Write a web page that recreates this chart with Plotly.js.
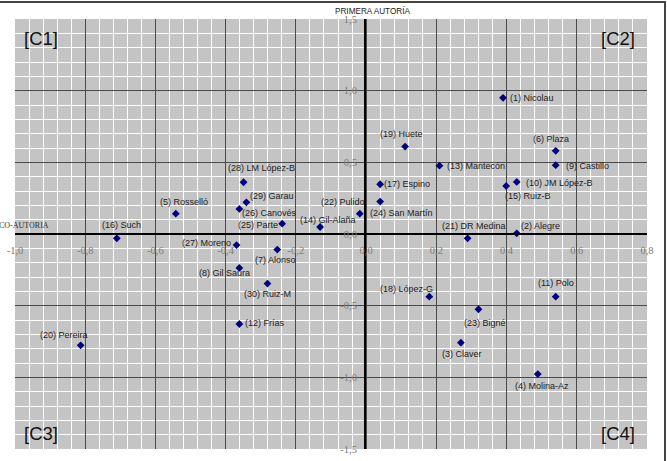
<!DOCTYPE html>
<html>
<head>
<meta charset="utf-8">
<script src="https://cdn.plot.ly/plotly-3.0.1.min.js"></script>
<style>html,body{margin:0;padding:0;background:#fff;}#chart{width:667px;height:461px;}</style>
</head>
<body>
<div id="chart"></div>
<script>
// ---- data ----
const names = ["(1) Nicolau","(2) Alegre","(3) Claver","(4) Molina-Az","(5) Rosselló","(6) Plaza","(7) Alonso","(8) Gil Saura","(9) Castillo","(10) JM López-B","(11) Polo","(12) Frías","(13) Mantecón","(14) Gil-Alaña","(15) Ruiz-B","(16) Such","(17) Espino","(18) López-G","(19) Huete","(20) Pereira","(21) DR Medina","(22) Pulido","(23) Bigné","(24) San Martín","(25) Parte","(26) Canovés","(27) Moreno","(28) LM López-B","(29) Garau","(30) Ruiz-M"];
const coAutoria = [0.39,0.429,0.27,0.489,-0.542,0.54,-0.253,-0.361,0.54,0.429,0.54,-0.361,0.209,-0.131,0.399,-0.71,0.04,0.18,0.111,-0.813,0.289,-0.018,0.32,0.04,-0.239,-0.361,-0.369,-0.349,-0.341,-0.281];
const primeraAutoria = [0.95,0.005,-0.758,-0.977,0.142,0.58,-0.109,-0.237,0.48,0.363,-0.437,-0.628,0.477,0.049,0.335,-0.03,0.347,-0.437,0.61,-0.777,-0.03,0.142,-0.525,0.226,0.072,0.175,-0.077,0.361,0.221,-0.346];
const xTickVals = [-1.0,-0.8,-0.6,-0.4,-0.2,0.0,0.2,0.4,0.6,0.8];
const xTickText = ["-1,0","-0,8","-0,6","-0,4","-0,2","0,0","0,2","0,4","0,6","0,8"];
const yTickVals = [-1.5,-1.0,-0.5,0.0,0.5,1.0,1.5];
const yTickText = ["-1,5","-1,0","-0,5","0,0","0,5","1,0","1,5"];
const quadrantLabels = ["[C1]","[C2]","[C3]","[C4]"];

// ---- label placement (pixel offsets of label centre from its marker) ----
const labelDx = [28.9,23.8,0.6,4.3,8,-4.4,-1.5,-15,31.3,43.1,0.3,25.2,37,8.3,21.8,5,27,-22.8,-3.2,-16.5,6.4,-16.4,6.6,21,-24.3,30.2,-30,17.7,25.2,0];
const labelDy = [0,-7.7,11.4,12,-11.3,-12,10,5,0.7,1.3,-14,-1.4,0.4,-7.4,10.3,-13.3,0,-8,-12.7,-10.7,-12.7,-12,13.7,11,1.7,3.6,-2.4,-14,-6,10];

const labelFont = {family: "Arial, Liberation Sans, sans-serif", size: 9, color: "#222"};
const tickFont = {family: "Liberation Serif, Times New Roman, serif", size: 10.5, color: "#7c7c7c"};

const annotations = names.map((n, i) => ({
  x: coAutoria[i], y: primeraAutoria[i], xref: "x", yref: "y",
  text: n, showarrow: false, xanchor: "center", yanchor: "middle",
  xshift: labelDx[i], yshift: -labelDy[i], font: labelFont
}));

const quadPos = [
  {x: 0.0106, y: 0.9535, xanchor: "left"},
  {x: 0.9842, y: 0.9535, xanchor: "right"},
  {x: 0.0106, y: 0.0372, xanchor: "left"},
  {x: 0.9842, y: 0.0372, xanchor: "right"}
];
quadrantLabels.forEach((t, i) => annotations.push({
  xref: "paper", yref: "paper", x: quadPos[i].x, y: quadPos[i].y,
  xanchor: quadPos[i].xanchor, yanchor: "middle", showarrow: false, text: t,
  font: {family: "Arial, Liberation Sans, sans-serif", size: 18.5, color: "#111"}
}));
annotations.push({
  xref: "paper", yref: "paper", x: 0.5027, y: 1.0186, xanchor: "left", yanchor: "middle",
  showarrow: false, text: "PRIMERA AUTORÍA",
  font: {family: "Arial, Liberation Sans, sans-serif", size: 8.2, color: "#222"}
});
annotations.push({
  xref: "paper", yref: "paper", x: 0.0565, y: 0.5202, xanchor: "right", yanchor: "middle",
  showarrow: false, text: "CO-AUTORIA",
  font: {family: "Liberation Serif, Times New Roman, serif", size: 8, color: "#333"}
});

const trace = {
  type: "scatter", mode: "markers", x: coAutoria, y: primeraAutoria, text: names,
  marker: {symbol: "diamond", size: 6, color: "#000080"}, hoverinfo: "text"
};

const layout = {
  width: 667, height: 461,
  margin: {l: 15, r: 20, t: 19, b: 12, pad: 0},
  paper_bgcolor: "#ffffff", plot_bgcolor: "#c4c4c4",
  showlegend: false,
  xaxis: {
    range: [-1.0, 0.8], domain: [0, 1], anchor: "free", position: 0.5,
    tickmode: "array", tickvals: xTickVals, ticktext: xTickText,
    showgrid: true, gridcolor: "#4a4a4a", gridwidth: 1,
    minor: {dtick: 0.04, tick0: -1.0, showgrid: true, gridcolor: "#ffffff", gridwidth: 1, ticks: ""},
    zeroline: false, showline: true, linecolor: "#000", linewidth: 2,
    ticks: "outside", ticklen: 6, tickcolor: "rgba(0,0,0,0)",
    tickfont: tickFont, fixedrange: true
  },
  yaxis: {
    range: [-1.5, 1.5], domain: [0, 1], anchor: "free", position: 0.5538,
    tickmode: "array", tickvals: yTickVals, ticktext: yTickText,
    showgrid: true, gridcolor: "#4a4a4a", gridwidth: 1,
    minor: {dtick: 0.1, tick0: -1.5, showgrid: true, gridcolor: "#ffffff", gridwidth: 1, ticks: ""},
    zeroline: false, showline: true, linecolor: "#000", linewidth: 2,
    ticks: "outside", ticklen: 5, tickcolor: "rgba(0,0,0,0)",
    tickfont: tickFont, fixedrange: true
  },
  annotations: annotations,
  shapes: [{
    type: "rect", xref: "paper", yref: "paper",
    x0: -0.0316, x1: 1.0285, y0: -0.0488, y1: 1.0395,
    line: {color: "#444", width: 2}, fillcolor: "rgba(0,0,0,0)", layer: "above"
  }]
};

Plotly.newPlot("chart", [trace], layout, {displayModeBar: false, staticPlot: true});
</script>
</body>
</html>
